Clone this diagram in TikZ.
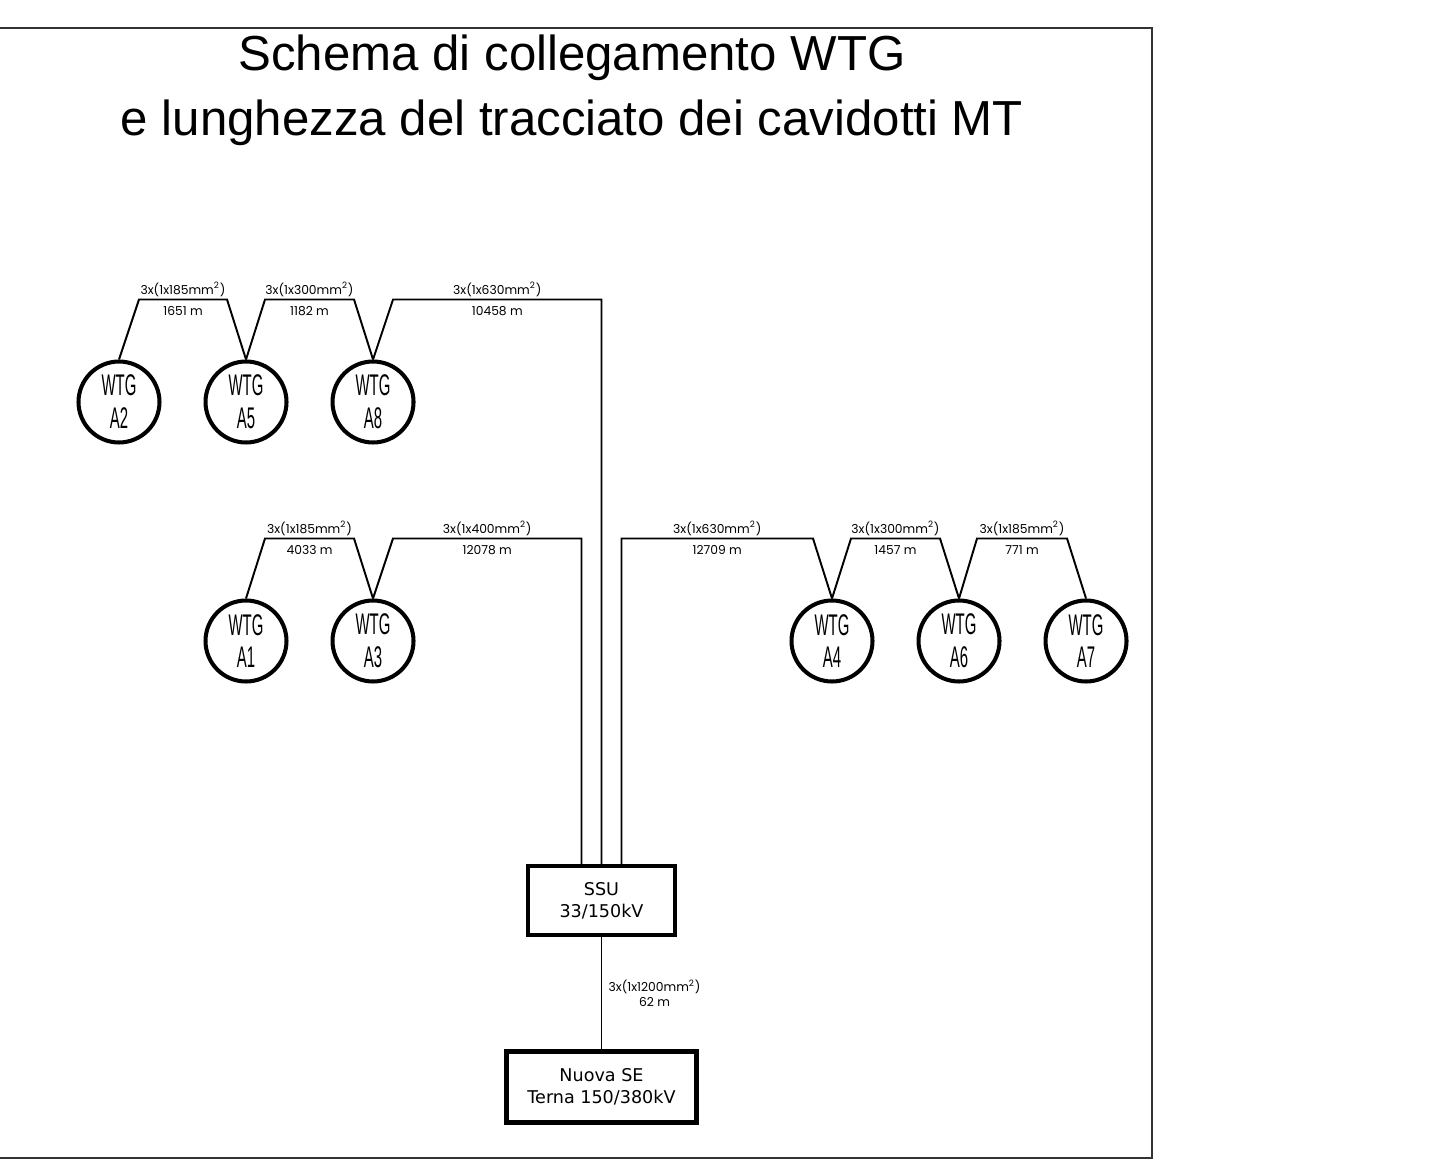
\documentclass[tikz,border=0pt]{standalone}
\usepackage{fontspec}
\setmainfont{Liberation Sans}
\newfontfamily\wtgfont[FakeStretch=0.5]{Liberation Sans}
\newfontfamily\cablefont{Poppins}
\newfontfamily\boxfont{DejaVu Sans}
\usetikzlibrary{positioning,calc}
\tikzset{wtg node/.style={circle,draw,line width=2.3pt,minimum size=1.62cm,inner sep=0pt,align=center,
            font=\wtgfont\fontsize{17}{18.7}\selectfont},
         station node/.style={rectangle,draw,line width=2.5pt,inner sep=0pt,align=center,
            font=\boxfont\fontsize{10}{12.5}\selectfont},
         cable/.style={draw,line width=1.1pt},
         sezione/.style={font=\cablefont\fontsize{7}{8.5}\selectfont,inner sep=1.5pt,
            text height=1.35ex,text depth=0.2ex},
            }

\begin{document}
\begin{tikzpicture}[x=0.02cm,y=-0.02cm]
    \useasboundingbox (0,0) rectangle (1440,1175);
    \draw[line width=1.2pt,black!80] (0,28) -- (1152,28) -- (1152,1158) -- (0,1158);

    \node[font=\fontsize{28}{36.8}\selectfont,align=center] (titolo) at (572,90)
        {Schema di collegamento WTG\\e lunghezza del tracciato dei cavidotti MT};

    % sottostazioni
    \node[station node,minimum width=2.94cm,minimum height=1.38cm] (SSU) at (601.5,900.5) {SSU\\33/150kV};
    \node[station node,minimum width=3.8cm,minimum height=1.42cm] (SE) [below=2.24cm of SSU] {Nuova SE\\Terna 150/380kV};

    % aerogeneratori
    \node[wtg node] (A2) at (119,402) {WTG\\A2};
    \node[wtg node] (A5) [right=0.84cm of A2] {WTG\\A5};
    \node[wtg node] (A8) [right=0.84cm of A5] {WTG\\A8};
    \node[wtg node] (A1) at (246,641) {WTG\\A1};
    \node[wtg node] (A3) [right=0.84cm of A1] {WTG\\A3};
    \node[wtg node] (A4) at (832,641) {WTG\\A4};
    \node[wtg node] (A6) [right=0.84cm of A4] {WTG\\A6};
    \node[wtg node] (A7) [right=0.84cm of A6] {WTG\\A7};

    % cavidotti MT
    \path[cable] (A2.north) -- ++(20,-60)
        -- node[sezione,above] {3x(1x185mm\textsuperscript{2})} node[sezione,below] {1651 m}
        ($(A5.north)+(-19,-60)$) -- (A5.north);
    \path[cable] (A5.north) -- ++(19,-60)
        -- node[sezione,above] {3x(1x300mm\textsuperscript{2})} node[sezione,below] {1182 m}
        ($(A8.north)+(-19,-60)$) -- (A8.north);
    \path[cable] (A8.north) -- ++(20,-60)
        -| node[sezione,above,pos=0.25] {3x(1x630mm\textsuperscript{2})} node[sezione,below,pos=0.25] {10458 m}
        (SSU.north);

    \path[cable] (A1.north) -- ++(19,-60)
        -- node[sezione,above] {3x(1x185mm\textsuperscript{2})} node[sezione,below] {4033 m}
        ($(A3.north)+(-19,-60)$) -- (A3.north);
    \path[cable] (A3.north) -- ++(20,-60)
        -| node[sezione,above,pos=0.25] {3x(1x400mm\textsuperscript{2})} node[sezione,below,pos=0.25] {12078 m}
        ($(SSU.north)+(-20,0)$);

    \path[cable] (A4.north) -- ++(-19,-60)
        -| node[sezione,above,pos=0.25] {3x(1x630mm\textsuperscript{2})} node[sezione,below,pos=0.25] {12709 m}
        ($(SSU.north)+(20,0)$);
    \path[cable] (A4.north) -- ++(19,-60)
        -- node[sezione,above] {3x(1x300mm\textsuperscript{2})} node[sezione,below] {1457 m}
        ($(A6.north)+(-19,-60)$) -- (A6.north);
    \path[cable] (A6.north) -- ++(18,-60)
        -- node[sezione,above] {3x(1x185mm\textsuperscript{2})} node[sezione,below] {771 m}
        ($(A7.north)+(-19,-60)$) -- (A7.north);

    \path[cable] (SSU.south) -- node[sezione,right,align=center,xshift=2pt,text height=,text depth=] {3x(1x1200mm\textsuperscript{2})\\62 m} (SE.north);

\end{tikzpicture}
\end{document}
